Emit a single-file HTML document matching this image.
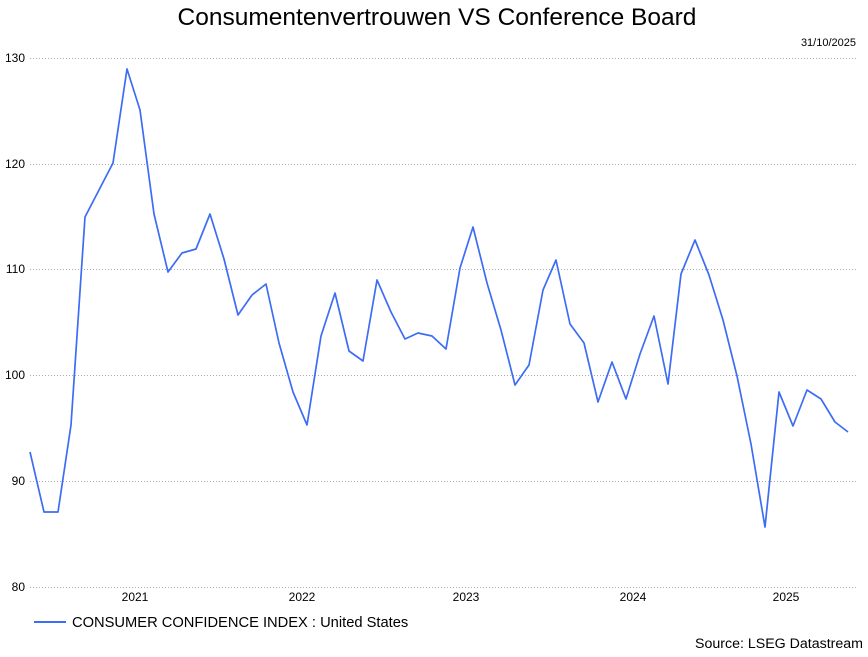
<!DOCTYPE html>
<html><head><meta charset="utf-8"><style>
body{margin:0;background:#fff;width:868px;height:652px;overflow:hidden;font-family:"Liberation Sans",sans-serif}
</style></head><body>
<svg width="868" height="652" xmlns="http://www.w3.org/2000/svg" font-family="Liberation Sans, sans-serif">
<text x="437" y="25" font-size="24.5" text-anchor="middle" fill="#000">Consumentenvertrouwen VS Conference Board</text>
<text x="856" y="46" font-size="11" text-anchor="end" fill="#000">31/10/2025</text>
<g stroke="#aaa" stroke-dasharray="1,2" stroke-width="1">
<line x1="30" y1="58.5" x2="858" y2="58.5"/>
<line x1="30" y1="164.5" x2="858" y2="164.5"/>
<line x1="30" y1="269.5" x2="858" y2="269.5"/>
<line x1="30" y1="375.5" x2="858" y2="375.5"/>
<line x1="30" y1="481.5" x2="858" y2="481.5"/>
<line x1="30" y1="587.5" x2="858" y2="587.5"/>
</g>
<g font-size="12" fill="#000" text-anchor="end">
<text x="25" y="62">130</text><text x="25" y="168">120</text><text x="25" y="273">110</text>
<text x="25" y="379">100</text><text x="25" y="485">90</text><text x="25" y="591">80</text>
</g>
<g font-size="12" fill="#000" text-anchor="middle">
<text x="135" y="601">2021</text><text x="302" y="601">2022</text><text x="466" y="601">2023</text>
<text x="633" y="601">2024</text><text x="786" y="601">2025</text>
</g>
<polyline fill="none" stroke="#3d6cf5" stroke-width="1.7" stroke-linejoin="round" points="30,452 44,512 58,512 71,425 85,217 99,190 113,163 127,69 140,110 154,214 168,272 182,253 196,249 210,214 224,259 238,315 252,295 266,284 279,343 293,392 307,425 321,336 335,293 349,351 363,361 377,280 391,312 405,339 418,333 432,336 446,349 460,268 473,227 487,283 501,330 515,385 529,365 543,290 556,260 570,324 584,343 598,402 612,362 626,399 640,354 654,316 668,384 681,274 695,240 709,275 723,320 737,376 751,444 765,527 779,392 793,426 807,390 821,399 835,422 848,432"/>
<line x1="34" y1="622" x2="66" y2="622" stroke="#3d6cf5" stroke-width="2"/>
<text x="72" y="627" font-size="14.7" fill="#000">CONSUMER CONFIDENCE INDEX : United States</text>
<text x="863" y="648" font-size="14.2" text-anchor="end" fill="#000">Source: LSEG Datastream</text>
</svg>
</body></html>
